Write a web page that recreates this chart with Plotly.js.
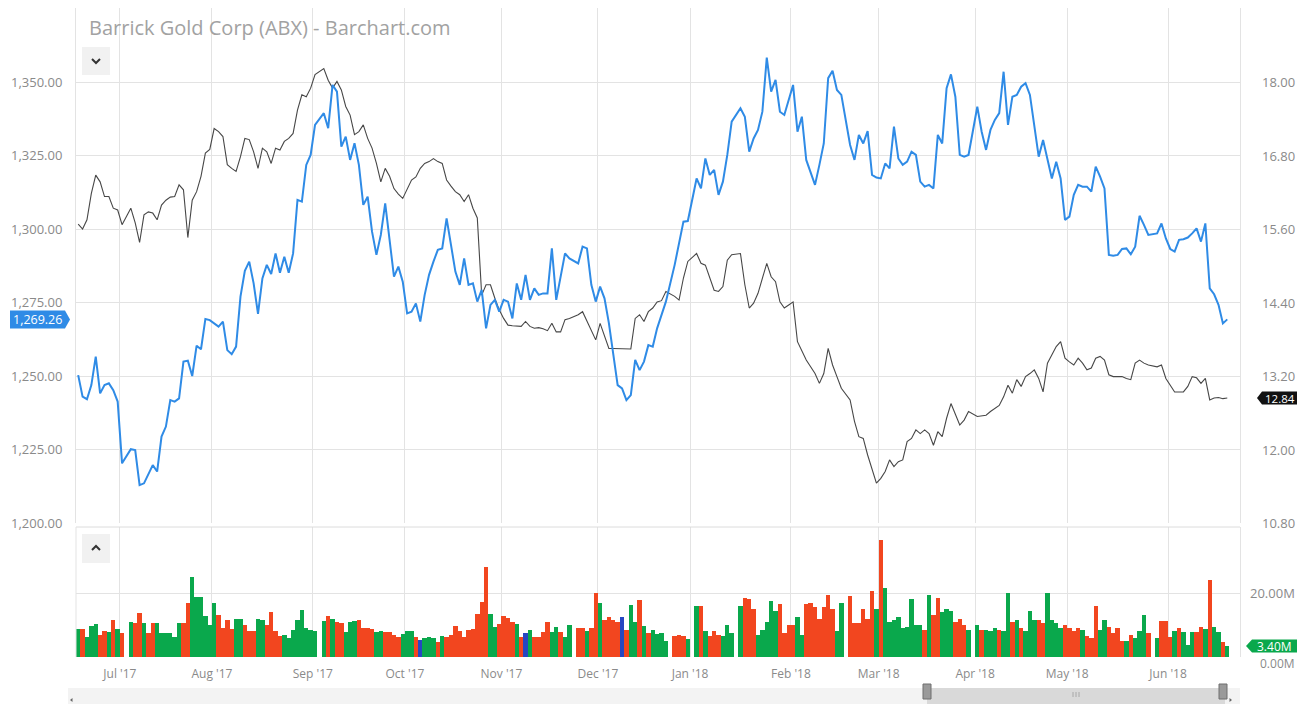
<!DOCTYPE html>
<html>
<head>
<meta charset="utf-8">
<script src="https://cdn.plot.ly/plotly-3.0.1.min.js"></script>
<style>
html,body{margin:0;padding:0;background:#ffffff;}
#chart{width:1308px;height:704px;}
</style>
</head>
<body>
<div id="chart"></div>
<script>
// ================= DATA =================
const chartTitle = 'Barrick Gold Corp (ABX) - Barchart.com';
const firstDay = '2017-06-19';
const lastDay  = '2018-06-20';
const holidays = ['2017-07-04','2017-09-04','2017-11-23','2017-12-25','2018-01-01',
                  '2018-01-15','2018-02-19','2018-03-30','2018-05-28'];

// Gold (blue line, left axis) – one value per trading day, one row per month
const goldClose = [
  1250.3,1243.0,1242.1,1246.9,1256.6,1244.1,1246.9,1247.5,1245.2,1241.3,
  1220.3,1225.1,1224.8,1212.9,1213.5,1216.9,1219.7,1217.5,1229.4,1232.8,1241.8,1241.3,1242.4,1254.9,1255.2,1250.0,1260.3,1259.1,1269.4,1269.0,
  1268.0,1266.8,1268.5,1258.8,1257.4,1260.0,1277.0,1285.8,1288.9,1281.5,1271.1,1283.2,1287.8,1284.7,1291.7,1285.1,1290.6,1285.1,1291.7,1309.9,1309.3,1321.8,1325.2,
  1335.4,1339.4,1334.3,1349.0,1346.7,1328.0,1331.4,1323.5,1329.2,1321.8,1308.2,1311.0,1299.1,1291.2,1298.0,1308.7,1295.7,1283.8,1287.2,1282.1,
  1271.3,1271.9,1274.7,1268.5,1277.6,1284.4,1288.9,1292.9,1293.4,1303.6,1294.6,1285.5,1281.0,1290.0,1281.0,1281.5,1275.3,1279.3,1266.2,1274.2,1275.9,1271.9,
  1275.9,1275.3,1269.6,1281.5,1275.9,1284.4,1275.9,1279.8,1277.6,1278.1,1278.1,1293.4,1275.9,1284.4,1291.7,1290.0,1288.3,1294.0,1293.4,1281.0,1275.3,
  1280.4,1276.4,1268.0,1258.3,1246.9,1245.8,1241.8,1243.5,1255.5,1252.0,1254.9,1260.5,1260.0,1266.2,1270.8,1275.3,1287.8,1294.6,1302.5,1302.7,
  1317.2,1313.8,1324.0,1318.4,1320.1,1311.6,1316.1,1325.2,1336.5,1341.1,1338.2,1326.3,1330.8,1333.7,1339.9,1358.3,1346.7,1350.7,1339.9,1338.8,1343.9,
  1349.0,1333.1,1338.2,1323.5,1318.9,1315.0,1321.8,1329.1,1351.3,1353.8,1347.3,1345.6,1328.6,1323.5,1332.0,1329.1,1333.3,1318.4,1317.5,
  1317.2,1322.3,1320.6,1334.8,1324.0,1321.8,1322.9,1326.3,1325.2,1316.1,1314.4,1315.0,1313.8,1332.0,1329.1,1347.9,1352.6,1345.0,1325.2,1324.6,1325.2,
  1341.6,1333.1,1326.9,1333.7,1337.1,1339.4,1353.5,1335.4,1345.0,1345.6,1348.4,1349.6,1345.6,1335.4,1324.6,1330.3,1324.0,1317.2,1322.9,1317.2,1303.1,
  1304.2,1311.6,1315.0,1314.4,1314.4,1312.7,1321.2,1317.8,1313.8,1291.2,1290.9,1291.2,1293.2,1293.4,1291.4,1294.0,1304.5,1301.4,1298.0,1298.5,1301.9,1296.8,
  1293.2,1292.3,1296.3,1296.5,1297.1,1298.5,1300.2,1295.7,1301.9,1279.8,1277.8,1274.2,1267.9,1269.26
];

// ABX (black line, right axis)
const abxClose = [
  15.68,15.60,15.75,16.18,16.48,16.37,16.13,16.13,15.94,15.91,
  15.67,15.94,15.70,15.38,15.83,15.88,15.86,15.75,15.99,16.07,16.12,16.13,16.32,16.24,15.46,16.07,16.21,16.46,16.84,16.90,
  17.24,17.19,17.11,16.65,16.59,16.54,16.78,17.08,17.06,16.86,16.59,16.92,16.86,16.67,16.92,16.89,17.03,17.08,17.16,17.54,17.79,17.76,17.90,
  18.12,18.22,18.03,17.90,18.01,17.87,17.60,17.46,17.14,17.19,17.30,17.08,16.92,16.67,16.37,16.59,16.46,16.26,16.17,16.10,
  16.24,16.40,16.45,16.59,16.67,16.70,16.75,16.70,16.67,16.40,16.30,16.21,16.16,16.05,16.16,15.94,15.78,14.52,14.69,14.69,14.47,14.28,
  14.14,14.03,14.02,14.01,14.01,14.09,14.01,13.98,13.99,13.97,13.94,14.06,13.92,13.92,14.12,14.14,14.20,14.25,14.09,13.92,13.79,
  14.06,13.84,13.65,13.65,13.65,13.65,13.65,13.64,14.14,14.20,14.09,14.25,14.31,14.41,14.43,14.58,14.50,14.44,14.80,15.07,
  15.20,15.04,15.01,14.80,14.60,14.58,14.66,15.09,15.18,15.20,14.69,14.31,14.39,14.55,14.80,15.04,14.82,14.74,14.41,14.31,14.36,
  14.41,13.76,13.60,13.46,13.35,13.24,13.08,13.24,13.65,13.38,13.19,13.00,12.81,12.46,12.21,12.18,11.91,11.69,11.45,
  11.53,11.64,11.83,11.72,11.80,11.83,12.13,12.18,12.32,12.26,12.32,12.26,12.07,12.29,12.21,12.51,12.75,12.56,12.40,12.48,12.62,
  12.54,12.55,12.56,12.62,12.67,12.72,12.86,13.05,12.92,13.14,13.03,13.19,13.24,13.30,13.16,12.94,13.41,13.54,13.68,13.76,13.49,
  13.43,13.38,13.49,13.41,13.30,13.33,13.49,13.52,13.46,13.22,13.19,13.19,13.19,13.16,13.14,13.41,13.46,13.41,13.38,13.35,13.38,13.16,
  13.05,12.94,12.94,12.94,13.03,13.19,13.17,13.08,13.16,12.81,12.84,12.85,12.83,12.84
];

// Volume in millions of shares
const volumeM = [
  8.6,8.9,6.4,9.7,10.3,6.9,8.2,7.7,11.6,8.6,
  7.4,11.0,10.5,13.9,10.5,7.4,10.7,10.5,7.4,7.4,7.4,6.4,10.7,10.7,16.8,24.9,18.6,18.8,12.8,10.0,
  16.8,13.0,9.0,11.5,8.9,12.0,11.8,10.0,8.0,8.0,12.0,11.5,10.0,14.0,8.0,6.5,7.0,6.0,8.5,11.5,14.7,9.0,8.5,
  8.0,11.3,12.7,12.0,11.0,10.5,7.8,11.0,11.3,11.5,9.2,9.0,8.9,7.7,8.0,7.8,7.8,6.8,6.4,7.3,
  8.0,8.0,6.3,5.3,5.8,6.3,5.8,4.8,6.5,6.3,6.8,9.7,8.1,6.3,8.4,8.9,13.3,17.3,28.0,13.3,9.5,10.3,
  12.8,12.3,11.0,10.2,6.3,7.4,8.4,6.3,6.3,7.7,11.0,7.7,9.5,7.7,6.3,10.0,9.0,9.2,8.1,9.2,19.9,
  17.0,11.6,12.6,11.6,11.0,12.6,8.4,16.2,11.0,17.8,9.7,7.4,8.5,7.3,7.5,5.0,6.6,6.9,6.6,5.5,
  15.8,15.8,8.0,6.5,8.0,7.0,6.5,10.0,7.5,16.0,18.5,18.0,15.0,7.0,8.5,11.0,17.5,14.5,16.5,7.5,10.0,
  10.0,12.5,7.0,16.5,17.0,15.5,12.0,15.5,19.5,15.0,8.0,17.0,19.0,10.5,10.5,15.0,12.0,20.5,15.0,
  36.5,21.5,11.0,11.5,12.5,9.0,9.5,18.0,10.0,10.0,8.5,19.5,13.0,18.5,14.0,15.0,14.5,11.0,12.0,10.0,8.5,
  10.0,8.5,8.5,8.0,9.0,8.5,8.0,20.0,11.0,11.5,9.0,8.0,14.5,11.5,11.5,10.5,20.0,11.5,10.5,9.0,10.0,
  9.0,8.0,9.0,8.5,6.5,6.0,16.0,8.5,11.5,9.5,7.5,9.0,5.0,5.0,7.0,6.0,8.0,13.1,7.4,5.8,11.4,11.4,
  6.1,8.1,9.0,7.7,3.75,7.7,7.7,9.5,8.7,24.1,9.5,7.7,4.8,3.4
];
// day direction (groups of five): u = up, d = down, n = unchanged
const volumeDir = [
  'uduuu ddudu',
  'duddu dduuu uuudd uuuuu',
  'udddd uuddd uuddd duuuu uuu',
  'uudud duuud ddduu ddddu',
  'uudnu uudud ddddd ddddu ud',
  'dddud nuddd duudu uddud d',
  'udddd nduud uduuu udddu',
  'ududd duuuu ddduu uuudd d',
  'duudd ddddd uuddd dddu',
  'duuuu uuuuu duddu uuddd u',
  'uduuu duudu duuud duuuu d',
  'dddud dduud dddud uuudu dd',
  'duduu uddud uudu'
].join('').replace(/ /g,'');

const monthTickDates = ['2017-07-03','2017-08-01','2017-09-01','2017-10-02','2017-11-01','2017-12-01',
                        '2018-01-01','2018-02-01','2018-03-01','2018-04-02','2018-05-01','2018-06-01'];
const monthTickText = ["Jul '17","Aug '17","Sep '17","Oct '17","Nov '17","Dec '17",
                       "Jan '18","Feb '18","Mar '18","Apr '18","May '18","Jun '18"];
const goldTicks = [1200,1225,1250,1275,1300,1325,1350];
const abxTicks = [10.8,12.0,13.2,14.4,15.6,16.8,18.0];
const volTicks = [0,20];

// ================= BUILD =================
function tradingDates(){
  const out=[]; let d=new Date(firstDay+'T12:00:00Z'); const end=new Date(lastDay+'T12:00:00Z');
  while(d<=end){
    const wd=d.getUTCDay(); const s=d.toISOString().slice(0,10);
    if(wd!==0 && wd!==6 && holidays.indexOf(s)<0) out.push(s+' 12:00');
    d=new Date(d.getTime()+86400000);
  }
  return out;
}
const dates = tradingDates();
console.log('dates',dates.length,'gold',goldClose.length,'abx',abxClose.length,'vol',volumeM.length,'dir',volumeDir.length);

const FW=1308, FH=704, M={l:76,r:68,t:8,b:47};
const PW=FW-M.l-M.r, PH=FH-M.t-M.b;
const px = X => (X-M.l)/PW;
const py = Y => (FH-M.b-Y)/PH;

const upperDomain=[py(523),1], lowerDomain=[0,py(527)];
const goldRange=[1200, 1200+515*25/73.5];
const abxRange=[10.8, 10.8+515*1.2/73.5];
const volRange=[0, 130*20/64];
const xRange=['2017-06-19 00:00','2018-06-25 09:36'];

const dirColor={u:'#0aa84c', d:'#f2461f', n:'#2747c2'};
const barColors = dates.map((_,i)=>dirColor[volumeDir[i]]||'#0aa84c');

const GRID='#e3e3e3', LAB='#8a8a8a', FONT='"Open Sans", "DejaVu Sans", sans-serif';

const traces=[
  {type:'scatter',mode:'lines',x:dates,y:abxClose,xaxis:'x',yaxis:'y',
   line:{color:'#474747',width:1.1},hoverinfo:'skip'},
  {type:'scatter',mode:'lines',x:dates,y:goldClose,xaxis:'x',yaxis:'y2',
   line:{color:'#2f8be6',width:2},hoverinfo:'skip'},
  {type:'bar',x:dates,y:volumeM,xaxis:'x2',yaxis:'y3',width:86400000,
   marker:{color:barColors,line:{width:0}},hoverinfo:'skip'}
];

const xCommon={type:'date',range:xRange,rangebreaks:[{bounds:['sat','mon']}],
  tickmode:'array',tickvals:monthTickDates,ticktext:monthTickText,
  showgrid:true,gridcolor:GRID,gridwidth:1,zeroline:false,showline:false,ticks:''};

const annotations=[];
annotations.push({xref:'paper',yref:'paper',x:px(87),y:py(28),xanchor:'left',yanchor:'middle',
  text:chartTitle,showarrow:false,font:{family:FONT,size:20,color:'#a2a2a2'}});
abxTicks.forEach(v=>annotations.push({xref:'paper',yref:'y',x:px(1297),y:v,xanchor:'right',yanchor:'middle',
  text:v.toFixed(2),showarrow:false,font:{family:FONT,size:13,color:LAB}}));
volTicks.forEach(v=>annotations.push({xref:'paper',yref:'y3',x:px(1297),y:v,xanchor:'right',yanchor:'middle',
  yshift:(v===0?-6:0),text:v.toFixed(2)+'M',showarrow:false,font:{family:FONT,size:(v===0?12:13),color:LAB}}));

const lastGold=goldClose[goldClose.length-1], lastAbx=abxClose[abxClose.length-1], lastVol=volumeM[volumeM.length-1];
const lastDir=volumeDir[volumeDir.length-1];

const shapes=[];
// panel borders
shapes.push({type:'line',xref:'paper',yref:'paper',x0:0,x1:1,y0:lowerDomain[1],y1:lowerDomain[1],line:{color:'#dcdcdc',width:1}});
shapes.push({type:'line',xref:'paper',yref:'paper',x0:0,x1:0,y0:0,y1:lowerDomain[1],line:{color:GRID,width:1}});
// last-value tags
shapes.push({type:'path',xref:'paper',yref:'y2',xsizemode:'pixel',ysizemode:'pixel',xanchor:px(65),yanchor:lastGold,
  path:'M -55 -9 L 0 -9 L 5 0 L 0 9 L -55 9 Z',fillcolor:'#2f8be6',line:{width:0}});
annotations.push({xref:'paper',yref:'y2',x:px(37.5),y:lastGold,xanchor:'center',yanchor:'middle',
  text:lastGold.toLocaleString('en-US',{minimumFractionDigits:2,maximumFractionDigits:2}),
  showarrow:false,font:{family:FONT,size:12.5,color:'#ffffff'}});
shapes.push({type:'path',xref:'paper',yref:'y',xsizemode:'pixel',ysizemode:'pixel',xanchor:px(1262),yanchor:lastAbx,
  path:'M -5 0 L 0 -6.5 L 35 -6.5 L 35 6.5 L 0 6.5 Z',fillcolor:'#111111',line:{width:0}});
annotations.push({xref:'paper',yref:'y',x:px(1279.5),y:lastAbx,xanchor:'center',yanchor:'middle',
  text:lastAbx.toFixed(2),showarrow:false,font:{family:FONT,size:11.5,color:'#ffffff'}});
shapes.push({type:'path',xref:'paper',yref:'y3',xsizemode:'pixel',ysizemode:'pixel',xanchor:px(1252),yanchor:lastVol,
  path:'M -6 0 L 0 -6.5 L 45 -6.5 L 45 6.5 L 0 6.5 Z',fillcolor:dirColor[lastDir],line:{width:0}});
annotations.push({xref:'paper',yref:'y3',x:px(1274.5),y:lastVol,xanchor:'center',yanchor:'middle',
  text:lastVol.toFixed(2)+'M',showarrow:false,font:{family:FONT,size:12,color:'#ffffff'}});
// collapse / expand buttons
shapes.push({type:'rect',xref:'paper',yref:'paper',x0:px(82),x1:px(110),y0:py(75),y1:py(47),fillcolor:'#f1f1f1',line:{width:0}});
shapes.push({type:'path',xref:'paper',yref:'paper',xsizemode:'pixel',ysizemode:'pixel',xanchor:px(96),yanchor:py(61),
  path:'M -4 2 L 0 -2 L 4 2',line:{color:'#333333',width:2}});
shapes.push({type:'rect',xref:'paper',yref:'paper',x0:px(82),x1:px(110),y0:py(563),y1:py(534),fillcolor:'#f1f1f1',line:{width:0}});
shapes.push({type:'path',xref:'paper',yref:'paper',xsizemode:'pixel',ysizemode:'pixel',xanchor:px(96),yanchor:py(548),
  path:'M -4 -2 L 0 2 L 4 -2',line:{color:'#333333',width:2}});
// navigator strip
shapes.push({type:'rect',xref:'paper',yref:'paper',x0:px(68),x1:px(1240),y0:py(704),y1:py(688),fillcolor:'#f3f3f3',line:{width:0}});
shapes.push({type:'rect',xref:'paper',yref:'paper',x0:px(927),x1:px(1225),y0:py(704),y1:py(688),fillcolor:'#d9d9d9',line:{width:0}});
[927,1223].forEach(X=>shapes.push({type:'rect',xref:'paper',yref:'paper',x0:px(X-4),x1:px(X+4),y0:py(699),y1:py(684),
  fillcolor:'#9a9a9a',line:{color:'#6f6f6f',width:1}}));
[1073,1076,1079].forEach(X=>shapes.push({type:'line',xref:'paper',yref:'paper',x0:px(X),x1:px(X),y0:py(697),y1:py(692),line:{color:'#a8a8a8',width:1}}));
shapes.push({type:'path',xref:'paper',yref:'paper',xsizemode:'pixel',ysizemode:'pixel',xanchor:px(71),yanchor:py(700),
  path:'M 1.5 -2 L -1 0 L 1.5 2 Z',fillcolor:'#666666',line:{width:0}});
shapes.push({type:'path',xref:'paper',yref:'paper',xsizemode:'pixel',ysizemode:'pixel',xanchor:px(1231),yanchor:py(700),
  path:'M -1.5 -2 L 1 0 L -1.5 2 Z',fillcolor:'#666666',line:{width:0}});

const layout={
  width:FW,height:FH,margin:M,paper_bgcolor:'#ffffff',plot_bgcolor:'#ffffff',showlegend:false,
  bargap:0,font:{family:FONT,size:12,color:LAB},hovermode:false,
  xaxis:Object.assign({},xCommon,{domain:[0,1],anchor:'y',showticklabels:false}),
  xaxis2:Object.assign({},xCommon,{domain:[0,1],anchor:'y3',matches:'x',showticklabels:true,
     tickfont:{family:FONT,size:12,color:LAB},ticklabelstandoff:8}),
  yaxis:{domain:upperDomain,anchor:'x',side:'right',range:abxRange,tickmode:'array',tickvals:abxTicks,
     showticklabels:false,showgrid:true,gridcolor:GRID,zeroline:false,showline:true,linecolor:GRID,ticks:''},
  yaxis2:{overlaying:'y',anchor:'x',side:'left',range:goldRange,tickmode:'array',tickvals:goldTicks,tickformat:',.2f',
     showgrid:false,zeroline:false,showline:true,linecolor:GRID,ticks:'',
     tickfont:{family:FONT,size:13,color:LAB},ticklabelstandoff:10},
  yaxis3:{domain:lowerDomain,anchor:'x2',side:'right',range:volRange,tickmode:'array',tickvals:volTicks,
     showticklabels:false,showgrid:true,gridcolor:GRID,zeroline:false,showline:true,linecolor:GRID,ticks:''},
  shapes:shapes,annotations:annotations
};

Plotly.newPlot('chart',traces,layout,{displayModeBar:false,staticPlot:true});
</script>
</body>
</html>
